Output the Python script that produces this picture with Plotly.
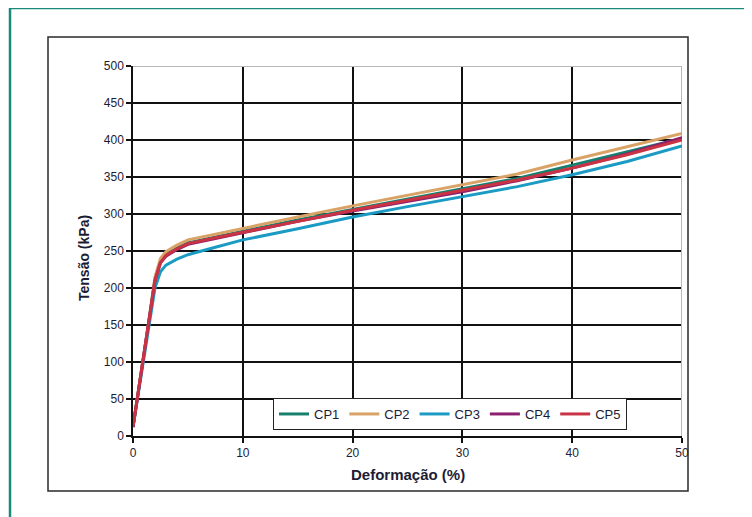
import plotly.graph_objects as go

# Deformação (%)
deform = [0, 0.5, 1, 1.5, 2, 2.5, 3, 4, 5, 7.5, 10, 15, 20, 25, 30, 35, 40, 45, 50]

cp1 = [12, 60, 108, 160, 212, 236, 245, 254, 261, 269, 277, 292, 306, 320, 333, 348, 366, 384, 402]
cp2 = [12, 60, 110, 162, 215, 240, 249, 258, 265, 273, 280, 296, 311, 325, 339, 354, 373, 391, 409]
cp3 = [12, 58, 105, 155, 200, 222, 231, 239, 245, 255, 265, 280, 296, 310, 324, 337, 353, 371, 392]
cp4 = [12, 60, 108, 160, 210, 234, 243, 252, 259, 267, 275, 290, 304, 317, 330, 345, 362, 381, 403]
cp5 = [12, 60, 108, 160, 210, 234, 244, 253, 260, 268, 275, 290, 305, 318, 332, 346, 362, 380, 400]

series = [
    ("CP1", cp1, "#17806d"),
    ("CP2", cp2, "#d9a266"),
    ("CP3", cp3, "#1b9bc4"),
    ("CP4", cp4, "#8e1f6e"),
    ("CP5", cp5, "#c93344"),
]

x_ticks = [0, 10, 20, 30, 40, 50]
y_ticks = [0, 50, 100, 150, 200, 250, 300, 350, 400, 450, 500]

fig = go.Figure()
for name, vals, color in series:
    fig.add_trace(go.Scatter(x=deform, y=vals, mode="lines", name=name,
                             line=dict(color=color, width=3)))

OFF = 8  # browser body margin
W, H = 752 - OFF, 517 - OFF
PL, PR, PT, PB = 133, 682, 66, 436  # plot area in page pixels
L, T = PL - OFF, PT - OFF
R, B = W - (PR - OFF), H - (PB - OFF)
pw, ph = PR - PL, PB - PT

def px(xp):
    return (xp - PL) / pw

def py(yp):
    return (PB - yp) / ph

font_fam = "Liberation Sans, Arial, sans-serif"
tick_col = "#1c1c34"

fig.update_layout(
    width=W, height=H,
    margin=dict(l=L, r=R, t=T, b=B),
    paper_bgcolor="white", plot_bgcolor="white",
    font=dict(family=font_fam, size=12, color=tick_col),
    showlegend=True,
    legend=dict(orientation="h", x=px(273), y=py(398), xanchor="left", yanchor="top",
                bgcolor="white", bordercolor="#222", borderwidth=1,
                font=dict(size=13, color=tick_col), tracegroupgap=0),
    xaxis=dict(range=[0, 50], tickvals=x_ticks, ticktext=[str(v) for v in x_ticks],
               showgrid=True, gridcolor="#111", gridwidth=1.5, zeroline=False,
               showline=True, linecolor="#111", linewidth=1.5,
               ticks="outside", ticklen=5, tickcolor="#111", tickwidth=1.5,
               tickfont=dict(size=12)),
    yaxis=dict(range=[0, 500], tickvals=y_ticks, ticktext=[str(v) for v in y_ticks],
               showgrid=True, gridcolor="#111", gridwidth=1.5, zeroline=False,
               showline=True, linecolor="#111", linewidth=1.5,
               ticks="outside", ticklen=5, tickcolor="#111", tickwidth=1.5,
               tickfont=dict(size=12)),
    annotations=[
        dict(text="<b>Deformação (%)</b>", x=0.5, y=py(474), xref="paper", yref="paper",
             xanchor="center", yanchor="middle",
             showarrow=False, font=dict(size=15, color=tick_col)),
        dict(text="<b>Tensão (kPa)</b>", x=px(84), y=py(258), xref="paper", yref="paper",
             xanchor="center", yanchor="middle",
             showarrow=False, textangle=-90, font=dict(size=14, color=tick_col)),
    ],
    shapes=[
        # light top / right frame lines
        dict(type="line", xref="x", yref="y", x0=0, x1=50, y0=500, y1=500,
             line=dict(color="#b8b8b8", width=2), layer="between"),
        dict(type="line", xref="x", yref="y", x0=50, x1=50, y0=0, y1=500,
             line=dict(color="#b8b8b8", width=2), layer="between"),
        # inner chart box
        dict(type="rect", xref="paper", yref="paper", x0=px(48), x1=px(688),
             y0=py(491), y1=py(37), line=dict(color="#2a2a2a", width=1.5), layer="above"),
        # outer teal frame
        dict(type="rect", xref="paper", yref="paper", x0=px(10), x1=px(780),
             y0=py(540), y1=py(8), line=dict(color="#1a8a78", width=2.5), layer="above"),
    ],
)

fig.write_html("out.html")
